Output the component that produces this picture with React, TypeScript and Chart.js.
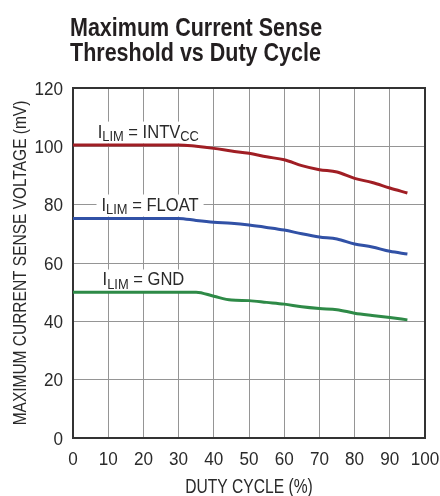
import React, { useEffect, useRef } from "react";
import { Chart, registerables } from "chart.js";
Chart.register(...registerables);

const dutyCycle = [0, 10, 20, 30, 35, 40, 45, 50, 55, 60, 65, 70, 75, 80, 85, 90, 95];
const ilimIntvcc = [100.5, 100.5, 100.5, 100.5, 100.0, 99.3, 98.4, 97.6, 96.4, 95.4, 93.4, 92.0, 91.2, 89.0, 87.6, 85.7, 84.0];
const ilimFloat = [75.3, 75.3, 75.3, 75.3, 74.6, 74.0, 73.6, 73.0, 72.2, 71.3, 70.0, 68.9, 68.2, 66.5, 65.5, 64.0, 63.1];
const ilimGnd = [50.0, 50.0, 50.0, 50.0, 50.0, 48.6, 47.3, 47.1, 46.5, 45.9, 45.0, 44.4, 44.0, 42.8, 42.0, 41.3, 40.5];

const titleLines = ["Maximum Current Sense", "Threshold vs Duty Cycle"];
const xTitle = "DUTY CYCLE (%)";
const yTitle = "MAXIMUM CURRENT SENSE VOLTAGE (mV)";

// label parts: [text, isSubscript]
const seriesLabels = [
  { parts: [["I", false], ["LIM", true], [" = INTV", false], ["CC", true]], x: 7.0, y: 103.0 },
  { parts: [["I", false], ["LIM", true], [" = FLOAT", false]], x: 8.1, y: 78.0 },
  { parts: [["I", false], ["LIM", true], [" = GND", false]], x: 8.4, y: 52.3 },
];

const FONT = '"Liberation Sans", Arial, sans-serif';
const TEXT = "#2a2a2a";

function toPts(ys: number[]) {
  return ys.map((y, i) => ({ x: dutyCycle[i], y }));
}

function drawText(ctx: any, text: string, x: number, y: number, font: string, sx: number, align: string) {
  ctx.save();
  ctx.font = font;
  ctx.translate(x, y);
  ctx.scale(sx, 1);
  ctx.textAlign = align;
  ctx.textBaseline = "alphabetic";
  ctx.fillText(text, 0, 0);
  ctx.restore();
}

const decorPlugin = {
  id: "decor",
  beforeDatasetsDraw(chart: any) {
    const { ctx, chartArea } = chart;
    const xs = chart.scales.x;
    const ys = chart.scales.y;
    ctx.save();
    ctx.strokeStyle = "#333";
    ctx.lineWidth = 2;
    ctx.strokeRect(chartArea.left, chartArea.top, chartArea.right - chartArea.left, chartArea.bottom - chartArea.top);
    // series labels with white boxes
    const SX = 0.92;
    for (const lab of seriesLabels) {
      const px = xs.getPixelForValue(lab.x);
      const py = ys.getPixelForValue(lab.y);
      let w = 0;
      const segs: any[] = [];
      for (const [t, sub] of lab.parts as any) {
        ctx.font = (sub ? "14px " : "18px ") + FONT;
        const m = ctx.measureText(t).width * SX;
        segs.push({ t, sub, x: px + w });
        w += m;
      }
      ctx.fillStyle = "#fff";
      ctx.fillRect(px - 5, py - 16, w + 10, 22);
      ctx.fillStyle = TEXT;
      for (const s of segs) {
        drawText(ctx, s.t, s.x, s.sub ? py + 3.5 : py, (s.sub ? "14px " : "18px ") + FONT, SX, "left");
      }
    }
    ctx.restore();
  },
  afterDraw(chart: any) {
    const { ctx, chartArea } = chart;
    const xs = chart.scales.x;
    const ys = chart.scales.y;
    ctx.save();
    ctx.fillStyle = TEXT;
    // tick labels from the scales
    for (const t of ys.ticks) {
      const py = ys.getPixelForValue(t.value);
      drawText(ctx, String(t.value), chartArea.left - 10, py + 6.5, "18px " + FONT, 0.95, "right");
    }
    for (const t of xs.ticks) {
      const px = xs.getPixelForValue(t.value);
      drawText(ctx, String(t.value), px, chartArea.bottom + 26.5, "18px " + FONT, 0.95, "center");
    }
    // axis titles
    drawText(ctx, xTitle, (chartArea.left + chartArea.right) / 2, 492.5, "20px " + FONT, 0.78, "center");
    ctx.save();
    ctx.translate(25.5, (chartArea.top + chartArea.bottom) / 2);
    ctx.rotate(-Math.PI / 2);
    drawText(ctx, yTitle, 0, 0, "19px " + FONT, 0.815, "center");
    ctx.restore();
    // chart title
    ctx.fillStyle = "#231f20";
    drawText(ctx, titleLines[0], 70, 36, "bold 25px " + FONT, 0.86, "left");
    drawText(ctx, titleLines[1], 70, 61, "bold 25px " + FONT, 0.86, "left");
    ctx.restore();
  },
};

export default function App() {
  const ref = useRef<HTMLCanvasElement>(null);
  useEffect(() => {
    const mk = (data: number[], color: string) => ({
      data: toPts(data),
      borderColor: color,
      borderWidth: 3,
      pointRadius: 0,
      fill: false,
      cubicInterpolationMode: "monotone" as const,
    });
    const chart = new Chart(ref.current!, {
      type: "line",
      data: {
        datasets: [
          mk(ilimIntvcc, "#a01e24"),
          mk(ilimFloat, "#3151a6"),
          mk(ilimGnd, "#2e8a47"),
        ],
      },
      options: {
        animation: false,
        responsive: true,
        maintainAspectRatio: false,
        layout: { padding: { top: 88, right: 15, left: 73, bottom: 58 } },
        plugins: { legend: { display: false }, tooltip: { enabled: false }, title: { display: false } },
        scales: {
          x: {
            type: "linear",
            min: 0,
            max: 100,
            ticks: { stepSize: 10, display: false, autoSkip: false },
            grid: { color: "#959595", lineWidth: 1, drawTicks: false },
            border: { display: false },
            title: { display: false },
          },
          y: {
            min: 0,
            max: 120,
            ticks: { stepSize: 20, display: false },
            grid: { color: "#959595", lineWidth: 1, drawTicks: false },
            border: { display: false },
            title: { display: false },
          },
        },
      },
      plugins: [decorPlugin],
    });
    return () => chart.destroy();
  }, []);
  return (
    <div style={{ position: "fixed", left: 0, top: 0, width: 440, height: 496, background: "#fff" }}>
      <canvas ref={ref} />
    </div>
  );
}
